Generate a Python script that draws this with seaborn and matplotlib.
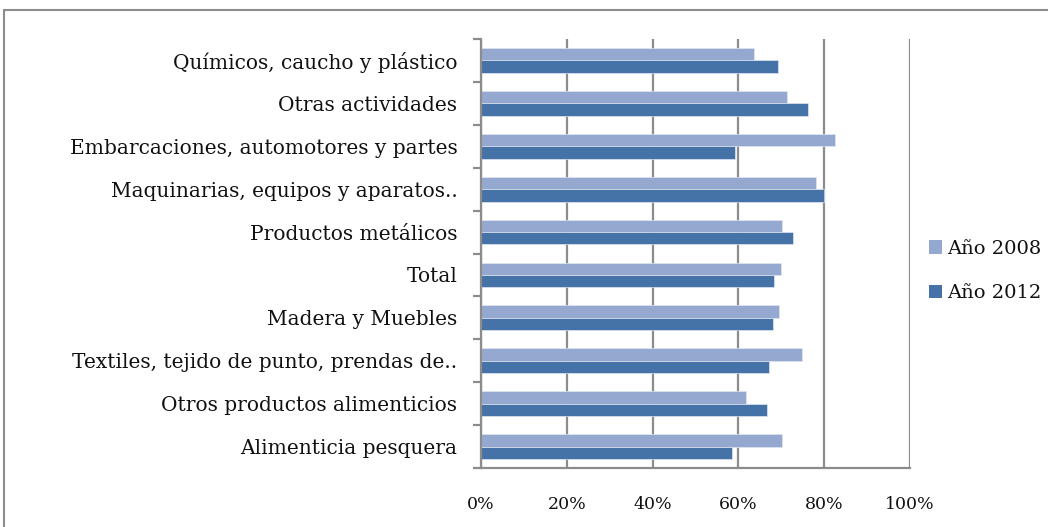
import matplotlib
matplotlib.use("Agg")
import matplotlib.pyplot as plt
from matplotlib.lines import Line2D
from matplotlib.patches import Patch
from matplotlib.ticker import PercentFormatter
import pandas as pd
import seaborn as sns

categories = [
    "Químicos, caucho y plástico",
    "Otras actividades",
    "Embarcaciones, automotores y partes",
    "Maquinarias, equipos y aparatos..",
    "Productos metálicos",
    "Total",
    "Madera y Muebles",
    "Textiles, tejido de punto, prendas de..",
    "Otros productos alimenticios",
    "Alimenticia pesquera",
]
years = ["Año 2008", "Año 2012"]
values_2008 = [63.7, 71.4, 82.5, 78.2, 70.2, 69.9, 69.5, 74.9, 61.8, 70.1]
values_2012 = [69.2, 76.3, 59.3, 79.9, 72.8, 68.2, 68.1, 67.1, 66.6, 58.6]
colors = ["#95A9D0", "#4573A7"]
x_ticks = [0, 20, 40, 60, 80, 100]

df = pd.DataFrame({
    "categoria": categories * 2,
    "valor": values_2008 + values_2012,
    "año": [years[0]] * len(categories) + [years[1]] * len(categories),
})

sns.set_theme(style="white")
plt.rcParams["font.family"] = ["DejaVu Serif"]

fig = plt.figure(figsize=(10.48, 5.27), dpi=100)
ax = fig.add_axes([481 / 1048, 59 / 527, 429 / 1048, 429 / 527])

sns.barplot(
    data=df, y="categoria", x="valor", hue="año", order=categories,
    hue_order=years, palette=colors, orient="h", width=0.58,
    edgecolor="#dfe6f2", linewidth=0.5, saturation=1, ax=ax, legend=False,
)

ax.set_xlim(0, 100)
ax.set_ylim(len(categories) - 0.5, -0.5)
ax.set_xticks(x_ticks)
ax.xaxis.set_major_formatter(PercentFormatter(decimals=0))
ax.set_xlabel("")
ax.set_ylabel("")
ax.grid(axis="x", color="#8c8c8c", linewidth=1.6)
ax.set_axisbelow(True)

for side in ["top", "right"]:
    ax.spines[side].set_visible(False)
for side in ["left", "bottom"]:
    ax.spines[side].set_color("#8c8c8c")
    ax.spines[side].set_linewidth(1.6)

# category labels centred between boundary ticks
ax.set_yticks(range(len(categories)))
ax.set_yticklabels(categories)
ax.set_yticks([i - 0.5 for i in range(len(categories) + 1)], minor=True)
ax.tick_params(axis="y", which="major", left=False, length=0, pad=17,
               labelsize=14.5, labelcolor="#111111")
ax.tick_params(axis="y", which="minor", left=True, length=6, width=1.6,
               color="#8c8c8c", direction="out")
ax.tick_params(axis="x", which="major", length=0, pad=20, labelsize=12.5,
               labelcolor="#111111")

handles = [Patch(facecolor=c, edgecolor="none") for c in colors]
leg = fig.legend(
    handles, years, loc="center left", bbox_to_anchor=(911 / 1048, 1 - 271 / 527),
    frameon=False, fontsize=14, handlelength=0.7, handleheight=0.7,
    handletextpad=0.25, labelspacing=1.35,
)
for t in leg.get_texts():
    t.set_color("#111111")

# outer chart frame
fig.add_artist(Line2D([4 / 1048, 4 / 1048], [0, 1 - 10 / 527], transform=fig.transFigure,
                      color="#8c8c8c", linewidth=1.5))
fig.add_artist(Line2D([4 / 1048, 1], [1 - 10 / 527, 1 - 10 / 527], transform=fig.transFigure,
                      color="#8c8c8c", linewidth=1.5))

fig.savefig("out.png", dpi=100, facecolor="white")
